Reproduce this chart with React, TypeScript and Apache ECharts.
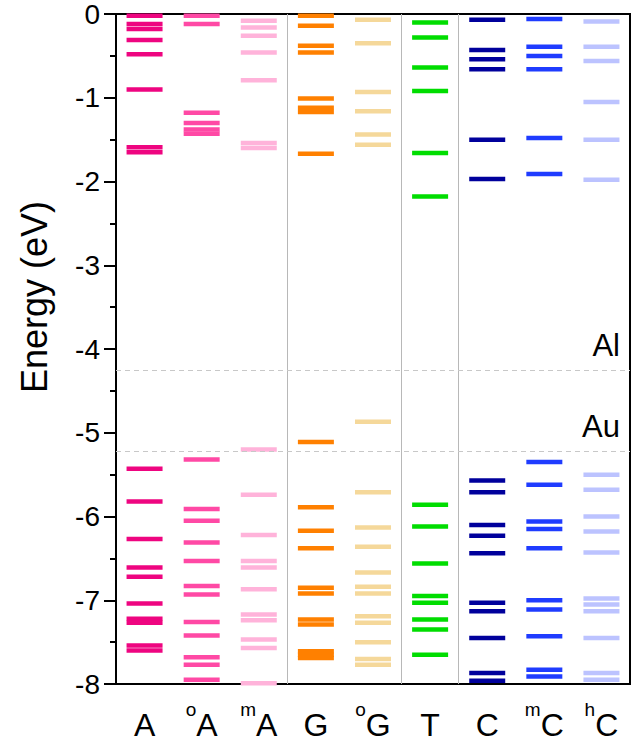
import React, { useEffect, useRef } from "react";
import * as echarts from "echarts";

const categories = ["A", "oA", "mA", "G", "oG", "T", "C", "mC", "hC"];
const colors = ["#ee0580", "#ff49a5", "#ffb3da", "#ff8000", "#f5d89a", "#00dd00", "#00009c", "#1f3cff", "#bcc3ff"];

const levelsA = [-0.02, -0.12, -0.18, -0.31, -0.48, -0.9, -1.59, -1.65, -5.43, -5.82, -6.27, -6.61, -6.72, -7.04, -7.22, -7.27, -7.54, -7.6];
const levelsOA = [-0.02, -0.12, -1.18, -1.3, -1.38, -1.43, -5.32, -5.91, -6.05, -6.31, -6.53, -6.83, -6.93, -7.26, -7.42, -7.68, -7.77, -7.95];
const levelsMA = [-0.08, -0.16, -0.26, -0.46, -0.79, -1.54, -1.6, -5.2, -5.74, -6.22, -6.53, -6.61, -6.87, -7.17, -7.24, -7.47, -7.57, -7.99];
const levelsG = [-0.02, -0.14, -0.38, -0.46, -1.01, -1.12, -1.17, -1.67, -5.11, -5.89, -6.17, -6.38, -6.85, -6.92, -7.23, -7.29, -7.61, -7.65, -7.69];
const levelsOG = [-0.07, -0.35, -0.93, -1.16, -1.44, -1.56, -4.87, -5.71, -6.13, -6.36, -6.67, -6.84, -6.92, -7.19, -7.27, -7.5, -7.7, -7.77];
const levelsT = [-0.1, -0.28, -0.64, -0.92, -1.66, -2.18, -5.86, -6.12, -6.56, -6.95, -7.03, -7.23, -7.35, -7.65];
const levelsC = [-0.07, -0.43, -0.54, -0.66, -1.5, -1.97, -5.57, -5.71, -6.1, -6.23, -6.44, -7.03, -7.13, -7.45, -7.87, -7.96];
const levelsMC = [-0.06, -0.39, -0.5, -0.66, -1.48, -1.91, -5.35, -5.62, -6.06, -6.15, -6.38, -7.0, -7.11, -7.43, -7.83, -7.91];
const levelsHC = [-0.09, -0.39, -0.56, -1.05, -1.5, -1.98, -5.5, -5.68, -6.0, -6.18, -6.43, -6.98, -7.05, -7.13, -7.45, -7.87, -7.95];

const allLevels = [levelsA, levelsOA, levelsMA, levelsG, levelsOG, levelsT, levelsC, levelsMC, levelsHC];

const workFunctions = [
  { name: "Al", value: -4.25 },
  { name: "Au", value: -5.22 },
];
const separators = [3, 5, 6];
const yTitle = "Energy (eV)";

const FONT = "Liberation Sans, Arial, sans-serif";

export default function App() {
  const ref = useRef<HTMLDivElement>(null);
  useEffect(() => {
    if (!ref.current) return;
    const chart = echarts.init(ref.current, undefined, { renderer: "svg" });
    const series: any[] = allLevels.map((lv, i) => ({
      type: "scatter",
      name: categories[i],
      xAxisIndex: 0,
      yAxisIndex: 0,
      symbol: "rect",
      symbolSize: [36, 4.5],
      itemStyle: { color: colors[i], opacity: 1 },
      data: lv.map((v) => [categories[i], v]),
      z: 3,
    }));
    series.push({
      type: "line",
      xAxisIndex: 1,
      yAxisIndex: 0,
      data: [],
      silent: true,
      markLine: {
        silent: true,
        symbol: "none",
        label: { show: false },
        lineStyle: { color: "#b8b8b8", type: "solid", width: 1 },
        data: separators.map((s) => ({ xAxis: s })),
      },
    });
    series.push({
      type: "line",
      xAxisIndex: 1,
      yAxisIndex: 0,
      data: [],
      silent: true,
      markLine: {
        silent: true,
        symbol: "none",
        lineStyle: { color: "#c8c8c8", type: [5, 4], width: 1 },
        label: {
          show: true,
          position: "insideEndTop",
          formatter: (p: any) => p.name,
          fontSize: 31,
          fontFamily: FONT,
          color: "#000",
          distance: [10, 9],
        },
        data: workFunctions.map((w) => ({ name: w.name, yAxis: w.value })),
      },
    });
    chart.setOption({
      animation: false,
      graphic: [
        {
          type: "text",
          x: 34,
          y: 297,
          rotation: Math.PI / 2,
          style: {
            text: yTitle,
            fontSize: 36,
            fontFamily: FONT,
            fill: "#000",
            align: "center",
            verticalAlign: "middle",
          },
        },
      ],
      grid: {
        left: 116,
        right: 8,
        top: 12,
        bottom: 60,
        show: true,
        borderColor: "#000",
        borderWidth: 2,
        backgroundColor: "transparent",
      },
      xAxis: [
        {
          type: "category",
          data: categories,
          boundaryGap: true,
          axisLine: { lineStyle: { color: "#000", width: 2 } },
          axisTick: { alignWithLabel: true, length: 12, lineStyle: { color: "#000", width: 2 } },
          splitLine: { show: false },
          axisLabel: {
            margin: 16,
            color: "#000",
            interval: 0,
            formatter: (v: string) =>
              v.length > 1 ? `{sup|${v[0]}}{base|${v.slice(1)}}` : `{base|${v}}`,
            rich: {
              base: { fontSize: 32, fontFamily: FONT, color: "#000", lineHeight: 50 },
              sup: { fontSize: 19, fontFamily: FONT, color: "#000", lineHeight: 19, verticalAlign: "top" },
            },
          },
        },
        {
          type: "value",
          min: 0,
          max: 9,
          show: false,
        },
      ],
      yAxis: {
        type: "value",
        min: -8,
        max: 0,
        interval: 1,
        axisLine: { show: true, lineStyle: { color: "#000", width: 2 } },
        axisTick: { show: true, length: 12, lineStyle: { color: "#000", width: 2 } },
        minorTick: { show: true, splitNumber: 2, length: 6, lineStyle: { color: "#000", width: 2 } },
        splitLine: { show: false },
        axisLabel: { fontSize: 28, fontFamily: FONT, color: "#000", margin: 16 },
      },
      series,
    });
    return () => chart.dispose();
  }, []);
  return (
    <div
      ref={ref}
      style={{ position: "fixed", left: 0, top: 0, width: 638, height: 744, background: "#fff" }}
    />
  );
}
